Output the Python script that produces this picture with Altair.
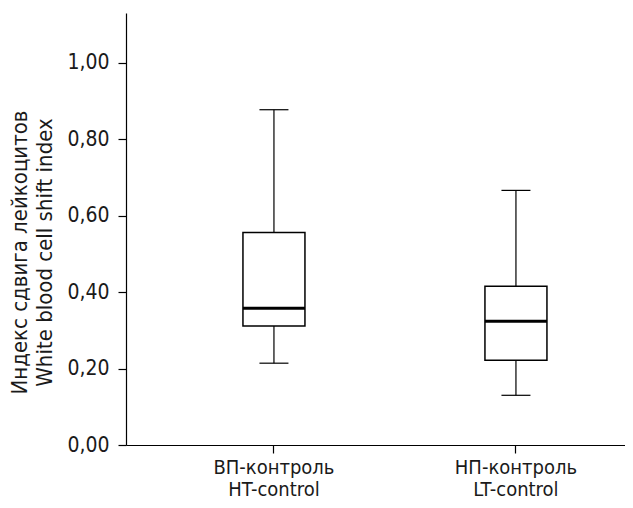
import altair as alt
import pandas as pd

groups = ["ВП-контроль\nHT-control", "НП-контроль\nLT-control"]
whisker_low = [0.214, 0.130]
q1 = [0.311, 0.222]
median = [0.358, 0.324]
q3 = [0.556, 0.415]
whisker_high = [0.877, 0.666]
y_ticks = [0.0, 0.2, 0.4, 0.6, 0.8, 1.0]
y_title = ["Индекс сдвига лейкоцитов", "White blood cell shift index"]

df = pd.DataFrame({
    "group": groups,
    "lo": whisker_low,
    "q1": q1,
    "med": median,
    "q3": q3,
    "hi": whisker_high,
})

FONT = "DejaVu Sans Condensed, sans-serif"

x = alt.X(
    "group:N",
    sort=groups,
    scale=alt.Scale(paddingInner=0.5, paddingOuter=0.281, align=0.643),
    axis=alt.Axis(
        title=None,
        labelAngle=0,
        labelExpr="split(datum.label, '\\n')",
        labelFontSize=20,
        labelLineHeight=22,
        labelPadding=4,
        tickSize=8,
        domainColor="black",
        tickColor="black",
        labelColor="#1a1a1a",
        labelFont=FONT,
    ),
)

yscale = alt.Scale(domain=[0, 1.13], nice=False)
yaxis = alt.Axis(
    title=y_title,
    values=y_ticks,
    labelExpr="replace(format(datum.value, '.2f'), '.', ',')",
    grid=False,
    tickSize=8,
    labelPadding=9,
    labelFontSize=21,
    labelFont=FONT,
    labelColor="#1a1a1a",
    titleFont=FONT,
    titleFontSize=22,
    titleFontWeight="normal",
    titleColor="#1a1a1a",
    titleLineHeight=25,
    titlePadding=10,
    titleY=239,
    domainColor="black",
    tickColor="black",
)

base = alt.Chart(df)

whisk_low = base.mark_rule(color="black", strokeWidth=1.2).encode(
    x=x, y=alt.Y("lo:Q", scale=yscale, axis=yaxis), y2="q1:Q"
)
whisk_high = base.mark_rule(color="black", strokeWidth=1.2).encode(
    x=x, y=alt.Y("q3:Q", scale=yscale), y2="hi:Q"
)
box = base.mark_bar(fill="white", stroke="black", strokeWidth=1.5, size=62).encode(
    x=x, y=alt.Y("q1:Q", scale=yscale), y2="q3:Q"
)
med = base.mark_tick(color="black", thickness=3, size=62, opacity=1).encode(
    x=x, y=alt.Y("med:Q", scale=yscale)
)
cap_lo = base.mark_tick(color="black", thickness=1.2, size=29, opacity=1).encode(
    x=x, y=alt.Y("lo:Q", scale=yscale)
)
cap_hi = base.mark_tick(color="black", thickness=1.2, size=29, opacity=1).encode(
    x=x, y=alt.Y("hi:Q", scale=yscale)
)

chart = (
    alt.layer(whisk_low, whisk_high, box, med, cap_lo, cap_hi)
    .properties(
        width=499,
        height=432,
        autosize=alt.AutoSizeParams(type="none"),
        padding={"left": 118, "top": 5, "right": 0, "bottom": 54},
    )
    .configure_view(stroke=None)
    .configure_axis(domainWidth=1.2, tickWidth=1.2)
)

chart.save("out.html", embed_options={"renderer": "svg", "actions": False})
